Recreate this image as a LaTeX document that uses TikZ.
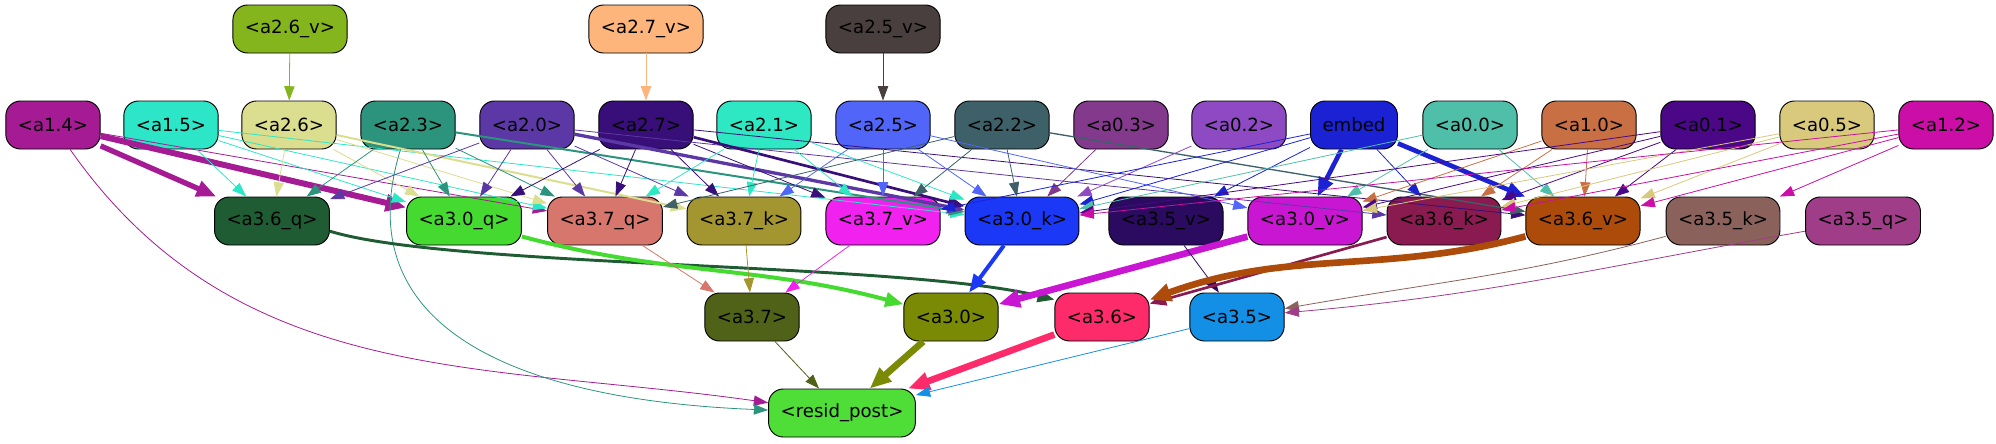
\documentclass[tikz,border=0pt]{standalone}
\usepackage{fontspec}
\setmainfont{DejaVu Sans}
\usepackage{tikz}
\usetikzlibrary{arrows.meta}

\definecolor{c26v}{HTML}{84B51C}
\definecolor{c27v}{HTML}{FDB57B}
\definecolor{c25v}{HTML}{4A3F3F}
\definecolor{c14}{HTML}{A51B93}
\definecolor{c15}{HTML}{2DE6C8}
\definecolor{c26}{HTML}{DBDD8F}
\definecolor{c23}{HTML}{2C947C}
\definecolor{c20}{HTML}{5B38A5}
\definecolor{c27}{HTML}{380E79}
\definecolor{c21}{HTML}{2EE8C3}
\definecolor{c25}{HTML}{5166F8}
\definecolor{c22}{HTML}{3D6069}
\definecolor{c03}{HTML}{843A8C}
\definecolor{c02}{HTML}{8E4AC2}
\definecolor{cemb}{HTML}{1B22D4}
\definecolor{c00}{HTML}{50BFA9}
\definecolor{c10}{HTML}{C96F44}
\definecolor{c01}{HTML}{4A0786}
\definecolor{c05}{HTML}{D9C97D}
\definecolor{c12}{HTML}{CB0EA6}
\definecolor{c36q}{HTML}{1F5C33}
\definecolor{c30q}{HTML}{45DA30}
\definecolor{c37q}{HTML}{D6766D}
\definecolor{c37k}{HTML}{A39530}
\definecolor{c37v}{HTML}{F121F0}
\definecolor{c30k}{HTML}{1B38F6}
\definecolor{c35v}{HTML}{2A0B5F}
\definecolor{c30v}{HTML}{C916D3}
\definecolor{c36k}{HTML}{8A1B50}
\definecolor{c36v}{HTML}{AC4B0A}
\definecolor{c35k}{HTML}{8B625B}
\definecolor{c35q}{HTML}{9F3D89}
\definecolor{c37}{HTML}{4F6217}
\definecolor{c30}{HTML}{7B8A04}
\definecolor{c36}{HTML}{FD2B6A}
\definecolor{c35}{HTML}{1390E6}
\definecolor{cres}{HTML}{4FDE38}

\begin{document}
\begin{tikzpicture}[x=0.75pt, y=0.75pt,
    feat/.style={draw=black, line width=0.7pt, fill=#1, rounded corners=11pt,
      minimum height=36pt, inner xsep=9pt, inner ysep=0pt,
      font=\fontsize{13.6}{16}\selectfont},
    link/.style={draw=#1, line width=0.6pt, -{Triangle[length=10pt 1.2, width=7pt 1.2]}},
    heavy/.style={line width=#1}]
    \useasboundingbox (0,0) rectangle (1996,-443);
    % Riga in alto
    \node[feat=c26v] (a26v) at (290,-29) {<a2.6\_v>};
    \node[feat=c27v] (a27v) at (646,-29) {<a2.7\_v>};
    \node[feat=c25v] (a25v) at (883,-29) {<a2.5\_v>};
    % Ingressi
    \node[feat=c14] (a14) at (53,-125) {<a1.4>};
    \node[feat=c15] (a15) at (171,-125) {<a1.5>};
    \node[feat=c26] (a26) at (289,-125) {<a2.6>};
    \node[feat=c23] (a23) at (408,-125) {<a2.3>};
    \node[feat=c20] (a20) at (527,-125) {<a2.0>};
    \node[feat=c27] (a27) at (646,-125) {<a2.7>};
    \node[feat=c21] (a21) at (764,-125) {<a2.1>};
    \node[feat=c25] (a25) at (883,-125) {<a2.5>};
    \node[feat=c22] (a22) at (1002,-125) {<a2.2>};
    \node[feat=c03] (a03) at (1121,-125) {<a0.3>};
    \node[feat=c02] (a02) at (1239,-125) {<a0.2>};
    \node[feat=cemb] (emb) at (1354,-125) {embed};
    \node[feat=c00] (a00) at (1470,-125) {<a0.0>};
    \node[feat=c10] (a10) at (1589,-125) {<a1.0>};
    \node[feat=c01] (a01) at (1708,-125) {<a0.1>};
    \node[feat=c05] (a05) at (1827,-125) {<a0.5>};
    \node[feat=c12] (a12) at (1946,-125) {<a1.2>};
    % q, k, v
    \node[feat=c36q] (a36q) at (272,-221) {<a3.6\_q>};
    \node[feat=c30q] (a30q) at (464,-221) {<a3.0\_q>};
    \node[feat=c37q] (a37q) at (605,-221) {<a3.7\_q>};
    \node[feat=c37k] (a37k) at (744,-221) {<a3.7\_k>};
    \node[feat=c37v] (a37v) at (883,-221) {<a3.7\_v>};
    \node[feat=c30k] (a30k) at (1022,-221) {<a3.0\_k>};
    \node[feat=c35v] (a35v) at (1166,-221) {<a3.5\_v>};
    \node[feat=c30v] (a30v) at (1305,-221) {<a3.0\_v>};
    \node[feat=c36k] (a36k) at (1444,-221) {<a3.6\_k>};
    \node[feat=c36v] (a36v) at (1583,-221) {<a3.6\_v>};
    \node[feat=c35k] (a35k) at (1723,-221) {<a3.5\_k>};
    \node[feat=c35q] (a35q) at (1863,-221) {<a3.5\_q>};
    % Teste
    \node[feat=c37] (a37) at (752,-317) {<a3.7>};
    \node[feat=c30] (a30) at (951,-317) {<a3.0>};
    \node[feat=c36] (a36) at (1102,-317) {<a3.6>};
    \node[feat=c35] (a35) at (1237,-317) {<a3.5>};
    % Uscita
    \node[feat=cres] (res) at (842,-413) {<resid\_post>};

    % Frecce dalla riga in alto
    \draw[link=c26v] (a26v) -- (a26);
    \draw[link=c27v] (a27v) -- (a27);
    \draw[link=c25v] (a25v) -- (a25);
    % Da a1.4 e a1.5
    \draw[link=c14, heavy=4pt] (a14) -- (a36q);
    \draw[link=c14, heavy=4.5pt] (a14) -- (a30q);
    \draw[link=c14] (a14) -- (a37q);
    \draw[link=c14] (a14) to[out=-55,in=172] (res);
    \draw[link=c15] (a15) -- (a36q);
    \draw[link=c15] (a15) -- (a30q);
    \draw[link=c15] (a15) -- (a37q);
    \draw[link=c15] (a15) -- (a30k);
    % Da a2.6 e a2.3
    \draw[link=c26] (a26) -- (a36q);
    \draw[link=c26] (a26) -- (a30q);
    \draw[link=c26] (a26) -- (a37q);
    \draw[link=c26, heavy=1.5pt] (a26) -- (a37k);
    \draw[link=c23] (a23) -- (a36q);
    \draw[link=c23] (a23) -- (a30q);
    \draw[link=c23] (a23) -- (a37q);
    \draw[link=c23, heavy=1.5pt] (a23) -- (a30k);
    \draw[link=c23] (a23) .. controls (345,-330) and (520,-400) .. (res);
    % Da a2.0 e a2.7
    \draw[link=c20] (a20) -- (a36q);
    \draw[link=c20] (a20) -- (a30q);
    \draw[link=c20] (a20) -- (a37q);
    \draw[link=c20] (a20) -- (a37k);
    \draw[link=c20, heavy=2.5pt] (a20) -- (a30k);
    \draw[link=c20] (a20) -- (a36k);
    \draw[link=c27] (a27) -- (a30q);
    \draw[link=c27] (a27) -- (a37q);
    \draw[link=c27] (a27) -- (a37k);
    \draw[link=c27] (a27) -- (a37v);
    \draw[link=c27, heavy=2pt] (a27) -- (a30k);
    \draw[link=c27] (a27) -- (a36v);
    % Da a2.1, a2.5, a2.2
    \draw[link=c21] (a21) -- (a37q);
    \draw[link=c21] (a21) -- (a37k);
    \draw[link=c21] (a21) -- (a37v);
    \draw[link=c21] (a21) -- (a30k);
    \draw[link=c25] (a25) -- (a37k);
    \draw[link=c25] (a25) -- (a37v);
    \draw[link=c25] (a25) -- (a30k);
    \draw[link=c25] (a25) -- (a30v);
    \draw[link=c22] (a22) -- (a37q);
    \draw[link=c22] (a22) -- (a37v);
    \draw[link=c22] (a22) -- (a30k);
    \draw[link=c22, heavy=1pt] (a22) -- (a36v);
    % Da a0.3, a0.2
    \draw[link=c03] (a03) -- (a30k);
    \draw[link=c02] (a02) -- (a30k);
    % Da embed
    \draw[link=cemb] (emb) -- (a37v);
    \draw[link=cemb] (emb) -- (a30k);
    \draw[link=cemb] (emb) -- (a35v);
    \draw[link=cemb, heavy=3.5pt] (emb) -- (a30v);
    \draw[link=cemb] (emb) -- (a36k);
    \draw[link=cemb, heavy=3.5pt] (emb) -- (a36v);
    % Da a0.0, a1.0, a0.1
    \draw[link=c00] (a00) -- (a30k);
    \draw[link=c00] (a00) -- (a30v);
    \draw[link=c00] (a00) -- (a36v);
    \draw[link=c10] (a10) -- (a30v);
    \draw[link=c10] (a10) -- (a36k);
    \draw[link=c10] (a10) -- (a36v);
    \draw[link=c01] (a01) -- (a30k);
    \draw[link=c01] (a01) -- (a30v);
    \draw[link=c01] (a01) -- (a36k);
    \draw[link=c01] (a01) -- (a36v);
    % Da a0.5, a1.2
    \draw[link=c05] (a05) -- (a30v);
    \draw[link=c05] (a05) -- (a36k);
    \draw[link=c05] (a05) -- (a36v);
    \draw[link=c12] (a12) -- (a30k);
    \draw[link=c12] (a12) -- (a36k);
    \draw[link=c12] (a12) -- (a36v);
    \draw[link=c12] (a12) -- (a35k);
    % Verso le teste
    \draw[link=c36q, heavy=2.2pt] (a36q.-10) .. controls (450,-268) and (900,-262) .. (a36.160);
    \draw[link=c30q, heavy=3pt] (a30q) to[out=-15,in=165] (a30);
    \draw[link=c37q] (a37q) -- (a37);
    \draw[link=c37k] (a37k) -- (a37);
    \draw[link=c37v] (a37v) -- (a37);
    \draw[link=c30k, heavy=3pt] (a30k) -- (a30);
    \draw[link=c30v, heavy=5pt] (a30v) -- (a30);
    \draw[link=c35v] (a35v) -- (a35);
    \draw[link=c36k, heavy=2pt] (a36k) -- (a36);
    \draw[link=c36v, heavy=5pt] (a36v) to[out=195,in=20] (a36);
    \draw[link=c35k] (a35k) to[out=195,in=10] (a35);
    \draw[link=c35q] (a35q) to[out=190,in=5] (a35);
    % Verso l'uscita
    \draw[link=c37] (a37) -- (res);
    \draw[link=c30, heavy=5pt] (a30) -- (res);
    \draw[link=c36, heavy=5pt] (a36) -- (res);
    \draw[link=c35] (a35) -- (res);
\end{tikzpicture}
\end{document}
